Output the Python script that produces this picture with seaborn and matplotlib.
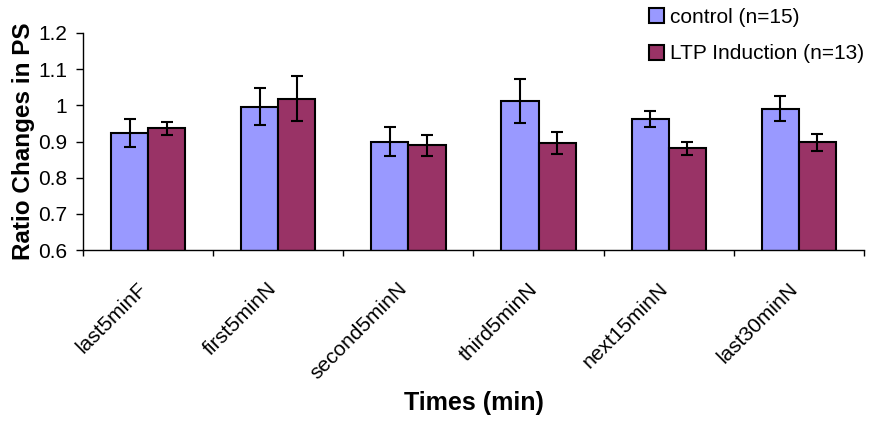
import matplotlib
matplotlib.use("Agg")
import matplotlib.pyplot as plt
import matplotlib.transforms as mtransforms
import seaborn as sns
import pandas as pd
import numpy as np

categories = ["last5minF", "first5minN", "second5minN", "third5minN", "next15minN", "last30minN"]
control_mean = [0.923, 0.996, 0.899, 1.011, 0.962, 0.991]
control_err = [0.038, 0.051, 0.040, 0.061, 0.023, 0.034]
ltp_mean = [0.936, 1.018, 0.889, 0.896, 0.881, 0.898]
ltp_err = [0.018, 0.062, 0.030, 0.030, 0.018, 0.023]
series = ["control (n=15)", "LTP Induction (n=13)"]
colors = ["#9999FF", "#993366"]

df = pd.DataFrame({
    "cat": categories * 2,
    "val": control_mean + ltp_mean,
    "err": control_err + ltp_err,
    "grp": [series[0]] * 6 + [series[1]] * 6,
})

sns.set_style("white")
plt.rcParams["font.family"] = ["Liberation Sans", "DejaVu Sans"]
plt.rcParams["text.color"] = "black"
plt.rcParams["axes.labelcolor"] = "black"
plt.rcParams["xtick.color"] = "black"
plt.rcParams["ytick.color"] = "black"

fig = plt.figure(figsize=(8.75, 4.22), dpi=100)
ax = fig.add_axes([83 / 875, 1 - 250 / 422, (864 - 83) / 875, (250 - 33) / 422])

sns.barplot(data=df, x="cat", y="val", hue="grp", palette=colors, width=0.57,
            saturation=1, errorbar=None, edgecolor="black", linewidth=1.5,
            ax=ax, legend=True)

# error bars at bar centers from the library's patches
bars = [p for p in ax.patches if p.get_width() > 0 and p.get_height() > 0]
bars = sorted(bars, key=lambda p: p.get_x())
vals = []
for i in range(6):
    vals.append((control_mean[i], control_err[i]))
    vals.append((ltp_mean[i], ltp_err[i]))
for p, (m, e) in zip(bars, vals):
    ax.errorbar(p.get_x() + p.get_width() / 2, m, yerr=e, fmt="none",
                ecolor="black", elinewidth=1.5, capsize=4.5, capthick=1.5)

ax.set_ylim(0.6, 1.2)
ax.set_xlim(-0.5, 5.5)
ax.set_yticks([0.6, 0.7, 0.8, 0.9, 1.0, 1.1, 1.2])
ax.set_yticklabels(["0.6", "0.7", "0.8", "0.9", "1", "1.1", "1.2"], fontsize=15)
ax.set_xticks(range(6))
ax.set_xticklabels(categories, rotation=45, ha="right", rotation_mode="anchor", fontsize=15)
ax.tick_params(axis="x", which="major", length=0, pad=21)
offset = mtransforms.ScaledTranslation(-11 / 100, 0, fig.dpi_scale_trans)
for lab in ax.get_xticklabels():
    lab.set_transform(lab.get_transform() + offset)
ax.set_xticks(np.arange(-0.5, 6, 1), minor=True)
ax.tick_params(axis="x", which="minor", length=4.5, width=1, direction="out", bottom=True, color="black")
ax.tick_params(axis="y", length=5, width=1, direction="out", left=True, color="black", pad=6.5)

for s in ["top", "right"]:
    ax.spines[s].set_visible(False)
for s in ["left", "bottom"]:
    ax.spines[s].set_color("black")
    ax.spines[s].set_linewidth(1)

ax.set_xlabel("Times (min)", fontsize=18, fontweight="bold")
ax.xaxis.set_label_coords(0.5, (19 - 172) / 217)
ax.xaxis.label.set_va("center")
ax.set_ylabel("Ratio Changes in PS", fontsize=17.5, fontweight="bold", labelpad=2)

leg = ax.get_legend()
handles, labels = ax.get_legend_handles_labels()
leg.remove()
fig.legend(handles, labels, loc="upper left", bbox_to_anchor=(630 / 875, 1 + 11 / 422),
           frameon=False, fontsize=15, handlelength=0.75, handleheight=0.75,
           handletextpad=0.25, labelspacing=0.85)

fig.savefig("out.png", dpi=100)
